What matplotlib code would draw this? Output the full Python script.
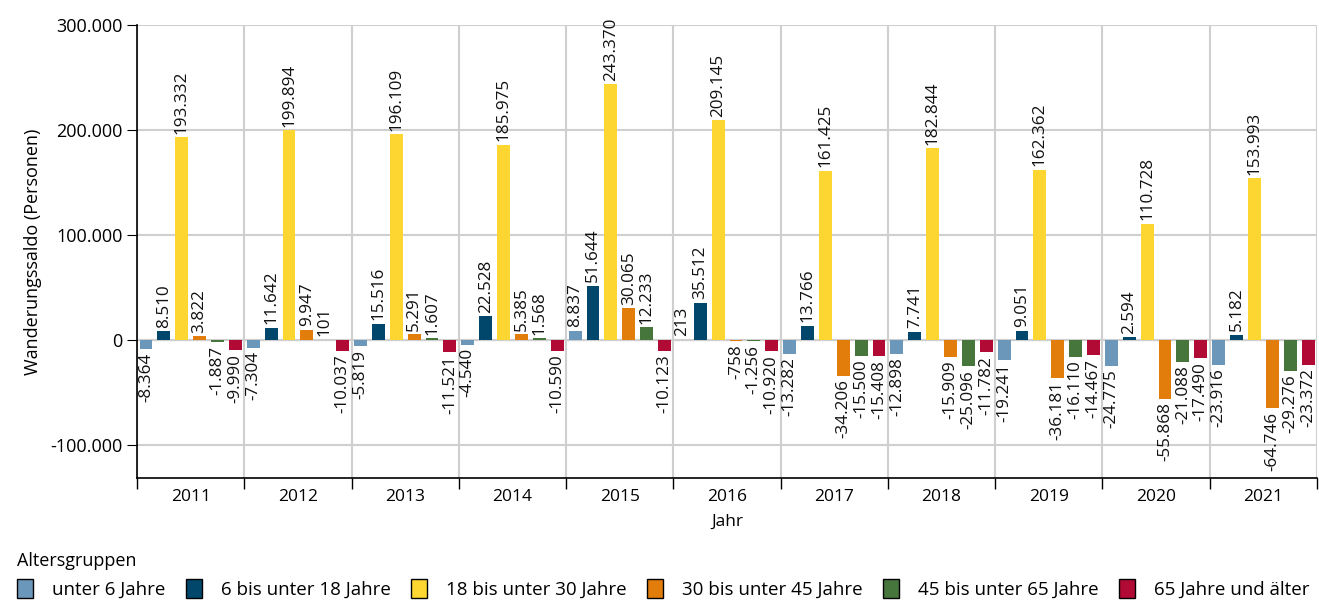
import numpy as np
import matplotlib
matplotlib.use("Agg")
import matplotlib.pyplot as plt
from matplotlib.ticker import FuncFormatter, FixedLocator
from matplotlib.patches import Patch

plt.rcParams['font.family'] = ['Open Sans', 'DejaVu Sans']

years = ['2011', '2012', '2013', '2014', '2015', '2016', '2017', '2018', '2019', '2020', '2021']
groups = ['unter 6 Jahre', '6 bis unter 18 Jahre', '18 bis unter 30 Jahre',
          '30 bis unter 45 Jahre', '45 bis unter 65 Jahre', '65 Jahre und älter']
colors = ['#6b98ba', '#00476b', '#fed631', '#e27c0b', '#47763d', '#b10a35']

unter6 = [-8364, -7304, -5819, -4540, 8837, 213, -13282, -12898, -19241, -24775, -23916]
j6_18 = [8510, 11642, 15516, 22528, 51644, 35512, 13766, 7741, 9051, 2594, 5182]
j18_30 = [193332, 199894, 196109, 185975, 243370, 209145, 161425, 182844, 162362, 110728, 153993]
j30_45 = [3822, 9947, 5291, 5385, 30065, -758, -34206, -15909, -36181, -55868, -64746]
j45_65 = [-1887, 101, 1607, 1568, 12233, -1256, -15500, -25096, -16110, -21088, -29276]
j65 = [-9990, -10037, -11521, -10590, -10123, -10920, -15408, -11782, -14467, -17490, -23372]

series = [unter6, j6_18, j18_30, j30_45, j45_65, j65]

def de(v):
    return f"{int(v):,}".replace(",", ".")

fig = plt.figure(figsize=(13.19, 6.01), dpi=100)
ax = fig.add_axes([0.1039, 0.2047, 0.8946, 0.7537])

x = np.arange(len(years))
step = 1 / 6
width = 0.12
for j, (vals, name, c) in enumerate(zip(series, groups, colors)):
    pos = x + (j - 2.5) * step
    ax.bar(pos, vals, width=width, color=c, label=name, zorder=3)
    for p, v in zip(pos, vals):
        off = 2.5 if v >= 0 else -2.5
        ax.annotate(de(v), (p, v), xytext=(0, off), textcoords='offset points',
                    rotation=90, ha='center', va='bottom' if v >= 0 else 'top',
                    fontsize=12.3, color='#111111', zorder=4)

ax.set_xlim(-0.5, len(years) - 0.5)
ax.set_ylim(-131400, 300000)
ax.set_yticks([-100000, 0, 100000, 200000, 300000])
ax.yaxis.set_major_formatter(FuncFormatter(lambda v, p: de(v)))
ax.set_xticks(x)
ax.set_xticklabels(years)
ax.xaxis.set_minor_locator(FixedLocator(np.arange(-0.5, len(years), 1)))
ax.tick_params(axis='x', which='major', length=0, labelsize=12.5, pad=8)
ax.tick_params(axis='x', which='minor', length=8, width=1, color='black')
ax.tick_params(axis='y', length=7, labelsize=13)

ax.grid(axis='y', which='major', color='#cfcfcf', lw=1.5, zorder=0)
ax.grid(axis='x', which='minor', color='#cfcfcf', lw=1.5, zorder=0)
ax.axhline(0, color='#aaaaaa', ls=':', lw=1, zorder=1)

for s in ['top', 'right']:
    ax.spines[s].set_visible(False)
ax.spines['left'].set_linewidth(1.2)
ax.spines['bottom'].set_linewidth(1.2)

ax.set_ylabel('Wanderungssaldo (Personen)', fontsize=13, labelpad=6)
ax.set_xlabel('Jahr', fontsize=12.5, labelpad=6)

lh = [Patch(facecolor=c, edgecolor='black', linewidth=1) for c in colors]
leg = fig.legend(lh, groups, loc='lower left', bbox_to_anchor=(0.0, -0.025),
                 ncol=6, frameon=False, title='Altersgruppen', alignment='left',
                 fontsize=13.5, title_fontsize=13, handlelength=0.85,
                 handleheight=1.15, handletextpad=1.05, columnspacing=1.05)

fig.savefig('out.png', dpi=100)
